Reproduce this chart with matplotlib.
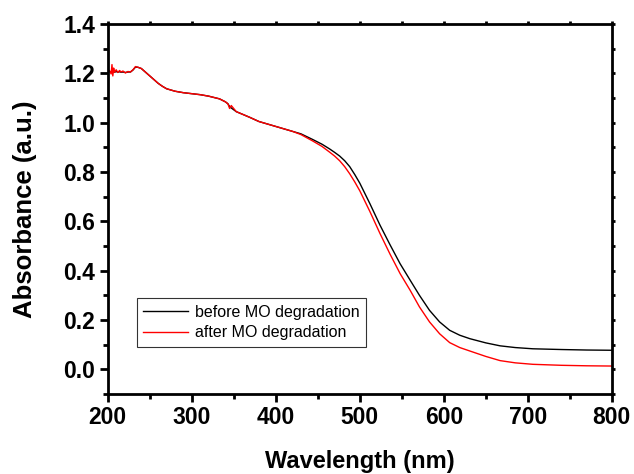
import matplotlib
matplotlib.use("Agg")
import matplotlib.pyplot as plt
from matplotlib.ticker import MultipleLocator

plt.rcParams['font.family'] = ['Liberation Sans', 'DejaVu Sans']

# shared part of both spectra (curves overlap below ~420 nm)
wl_common = [200, 202, 204, 205, 206, 207, 208, 210, 212, 214, 216, 218, 221, 224, 227,
             230, 233, 236, 240, 245, 250, 255, 260, 265, 270, 280, 290, 300, 310,
             320, 333, 340, 343, 345, 347, 353, 360, 369, 380, 389, 400, 409, 420]
abs_common_red = [1.205, 1.212, 1.198, 1.236, 1.19, 1.222, 1.205, 1.215, 1.204, 1.212,
                  1.206, 1.21, 1.202, 1.208, 1.206, 1.215, 1.228, 1.225, 1.22, 1.205,
                  1.19, 1.175, 1.16, 1.148, 1.138, 1.128, 1.122, 1.118, 1.114, 1.108,
                  1.097, 1.085, 1.077, 1.058, 1.07, 1.045, 1.035, 1.022, 1.005, 0.996,
                  0.985, 0.976, 0.965]
abs_common_black = [1.205, 1.208, 1.204, 1.21, 1.205, 1.207, 1.205, 1.208, 1.205, 1.207,
                    1.205, 1.206, 1.204, 1.206, 1.206, 1.214, 1.226, 1.225, 1.22, 1.205,
                    1.19, 1.175, 1.16, 1.148, 1.138, 1.128, 1.122, 1.118, 1.114, 1.108,
                    1.097, 1.085, 1.077, 1.066, 1.06, 1.045, 1.035, 1.022, 1.005, 0.996,
                    0.985, 0.976, 0.965]

wl_tail = [430, 444, 455, 464, 470, 476, 482, 488, 494, 500, 512, 524, 536, 548, 560,
           571, 583, 595, 607, 619, 631, 650, 667, 685, 706, 740, 770, 800]
abs_before_tail = [0.955, 0.932, 0.913, 0.894, 0.88, 0.865, 0.846, 0.822, 0.79, 0.755,
                   0.672, 0.585, 0.505, 0.428, 0.361, 0.30, 0.239, 0.192, 0.158, 0.138,
                   0.124, 0.107, 0.095, 0.088, 0.083, 0.08, 0.078, 0.077]
abs_after_tail = [0.952, 0.926, 0.904, 0.881, 0.865, 0.846, 0.822, 0.793, 0.76, 0.724,
                  0.64, 0.551, 0.467, 0.388, 0.32, 0.253, 0.192, 0.144, 0.108, 0.088,
                  0.074, 0.052, 0.035, 0.026, 0.02, 0.016, 0.014, 0.013]

wavelength = wl_common + wl_tail
before = abs_common_black + abs_before_tail
after = abs_common_red + abs_after_tail

fig = plt.figure(figsize=(6.34, 4.74), dpi=100)
ax = fig.add_axes([0.170, 0.169, 0.795, 0.780])

ax.plot(wavelength, before, color='black', lw=1.0, label='before MO degradation')
ax.plot(wavelength, after, color='red', lw=1.0, label='after MO degradation')

ax.set_xlim(200, 800)
ax.set_ylim(-0.1, 1.4)
ax.xaxis.set_major_locator(MultipleLocator(100))
ax.xaxis.set_minor_locator(MultipleLocator(50))
ax.yaxis.set_minor_locator(MultipleLocator(0.1))
ax.set_yticks([0.0, 0.2, 0.4, 0.6, 0.8, 1.0, 1.2, 1.4])
ax.set_yticklabels(['0.0', '0.2', '0.4', '0.6', '0.8', '1.0', '1.2', '1.4'])

for s in ax.spines.values():
    s.set_linewidth(2.0)

ax.tick_params(axis='both', which='major', direction='out', length=6, width=2,
               labelsize=16.5, pad=3)
ax.tick_params(axis='both', which='minor', direction='out', length=3.5, width=2)
ax.tick_params(top=True, right=True, which='both')
for lab in ax.get_xticklabels() + ax.get_yticklabels():
    lab.set_fontweight('bold')
# tiny marks on top/right edges
for t in ax.xaxis.get_major_ticks() + ax.xaxis.get_minor_ticks():
    t.tick2line.set_markersize(2.5)
for t in ax.yaxis.get_major_ticks() + ax.yaxis.get_minor_ticks():
    t.tick2line.set_markersize(2.5)

ax.set_xlabel('Wavelength (nm)', fontsize=17, fontweight='bold', labelpad=15)
ax.set_ylabel('Absorbance (a.u.)', fontsize=18.5, fontweight='bold', labelpad=19)

leg = ax.legend(loc='lower left', bbox_to_anchor=(0.058, 0.128), fontsize=11.5,
                handlelength=2.8, frameon=True, fancybox=False, borderpad=0.4,
                labelspacing=0.35, handletextpad=0.4, borderaxespad=0)
leg.get_frame().set_edgecolor('black')
leg.get_frame().set_linewidth(0.8)

fig.savefig('out.png', dpi=100)
